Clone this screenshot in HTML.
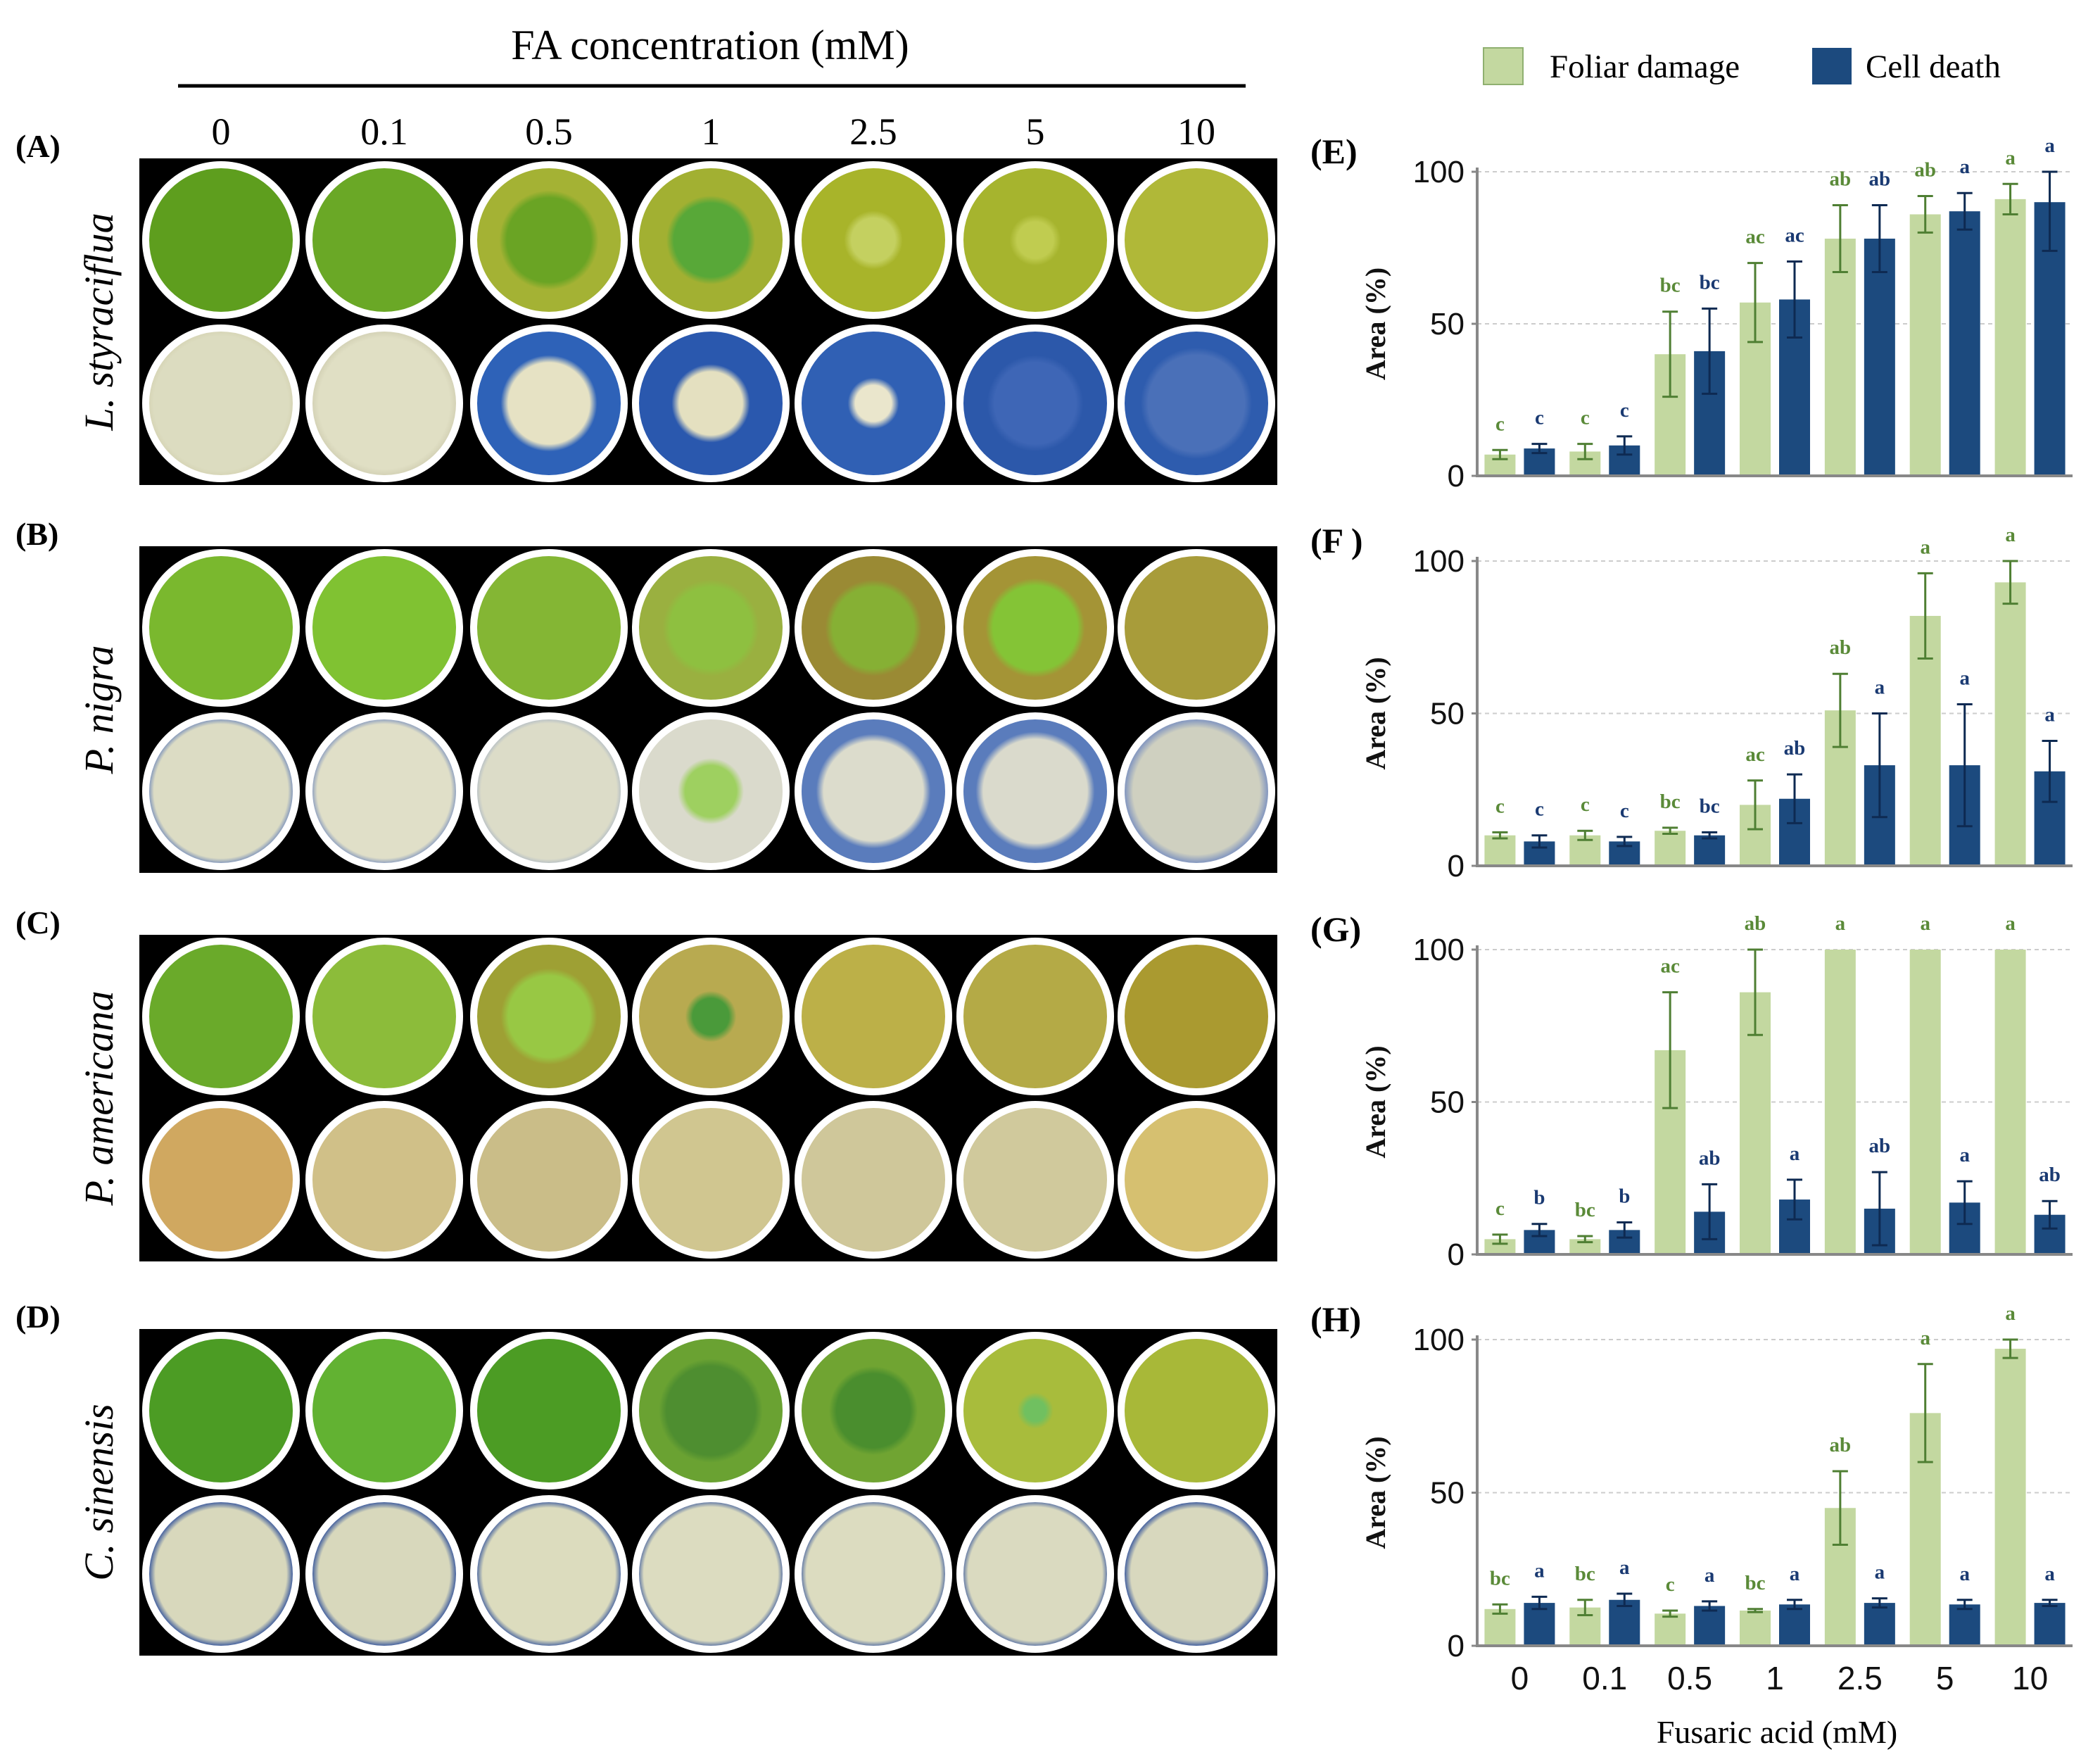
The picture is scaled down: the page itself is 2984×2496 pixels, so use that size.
<!DOCTYPE html>
<html><head><meta charset="utf-8"><style>
html,body{margin:0;padding:0;background:#fff;}
svg{display:block;}
</style></head><body>
<svg id="fig" xmlns="http://www.w3.org/2000/svg" width="2984" height="2496" viewBox="0 0 2984 2496"></svg>
<script>
const concLabels = ["0","0.1","0.5","1","2.5","5","10"];
const species = ["L. styraciflua","P. nigra","P. americana","C. sinensis"];
const panelLetters = ["(A)","(B)","(C)","(D)"];
const chartLetters = ["(E)","(F )","(G)","(H)"];
const greenE=[7,8,40,57,78,86,91], greenEerr=[1.5,2.5,14,13,11,6,5];
const blueE=[9,10,41,58,78,87,90], blueEerr=[1.5,3,14,12.5,11,6,16];
const greenF=[10,10,11.5,20,51,82,93], greenFerr=[1,1.5,1,8,12,14,7];
const blueF=[8,8,10,22,33,33,31], blueFerr=[2,1.5,1,8,17,20,10];
const greenG=[5,5,67,86,100,100,100], greenGerr=[1.5,1,19,14,0,0,0];
const blueG=[8,8,14,18,15,17,13], blueGerr=[2,2.5,9,6.5,12,7,4.5];
const greenH=[12,12.5,10.5,11.5,45,76,97], greenHerr=[1.5,2.5,1,0.5,12,16,3];
const blueH=[14,15,13,13.5,14,13.5,14], blueHerr=[2,2,1.5,1.5,1.5,1.5,1];
const greenLetE=["c","c","bc","ac","ab","ab","a"], blueLetE=["c","c","bc","ac","ab","a","a"];
const greenLetF=["c","c","bc","ac","ab","a","a"], blueLetF=["c","c","bc","ab","a","a","a"];
const greenLetG=["c","bc","ac","ab","a","a","a"], blueLetG=["b","b","ab","a","ab","a","ab"];
const greenLetH=["bc","bc","c","bc","ab","a","a"], blueLetH=["a","a","a","a","a","a","a"];
const yTicks=[0,50,100];

const svg=document.getElementById('fig');
const NS="http://www.w3.org/2000/svg";
function mk(tag,attrs,parent){const e=document.createElementNS(NS,tag);for(const k in attrs)e.setAttribute(k,attrs[k]);(parent||svg).appendChild(e);return e;}
const defs=mk('defs',{});

let t=mk('text',{x:1009,y:84,'font-family':'Liberation Serif, serif','font-size':60,'text-anchor':'middle',fill:'#000'});
t.textContent="FA concentration (mM)";


let ln=mk('line',{x1:253,x2:1770,y1:122,y2:122,stroke:'#000','stroke-width':5});


const colX=[314,546,780,1010,1241,1471,1700];
concLabels.forEach((c,i)=>{
  const e=mk('text',{x:colX[i],y:205,'font-family':'Liberation Serif, serif','font-size':54,'text-anchor':'middle'});
  e.textContent=c;
  
  
});

const discs=[
 [[["#5e9e1e","#5a981c",1],["#6aa826","#64a022",1],["#6aa424","#a4b234",.62],["#58a838","#a2b032",.55],["#c4d060","#a8b42a",.35],["#c0cc50","#a6b42e",.3],["#b0b838","#a4ac30",1]],
  [["#dcdcc0","#d4d2b2",.95],["#e0dfc4","#d2d0b4",.93],["#e6e2c4","#2e62b8",.6],["#e4e0c0","#2a58ae",.48],["#eae6cc","#3060b4",.3],["#3e66b6","#2c58aa",.6],["#4a70b8","#2e5cae",.7]]],
 [[["#7ab82e","#74b22c",1],["#80c232","#78b82e",1],["#84b634","#80ae30",1],["#8ec040","#9ab040",.6],["#86b034","#9a8a34",.6],["#84c436","#a49436",.62],["#a89c3a","#a09236",1]],
  [["#dcdcc4","#5a78b8",.95],["#e0dfc8","#6a84bc",.95],["#dcdcc8","#a0aec4",.96],["#9ed060","#dadacc",.4],["#dcdccc","#5a7cbc",.72],["#dadacc","#5a7cbc",.75],["#cfd0c0","#8a9cc0",.9]]],
 [[["#6aaa2a","#64a026",1],["#8cbc3a","#92b63c",1],["#98c844","#9ea034",.6],["#4a9a3a","#b8aa50",.3],["#bcb048","#b4a844",1],["#b4aa46","#aca040",1],["#aa9a30","#a49430",1]],
  [["#d0a860","#c8b070",1],["#d0c088","#c8b478",1],["#cabd88","#c2b27a",1],["#d0c690","#c8bc84",1],["#cfc79a","#c8bc8c",1],["#d0c99c","#c8bf90",1],["#d6c070","#ccbc80",1]]],
 [[["#4c9c24","#48961e",1],["#62b232","#5aa82c",1],["#4c9c24","#48961e",1],["#4e8e30","#6aa232",.65],["#4a8e2e","#70a432",.55],["#70c060","#a8bc3c",.2],["#a8b838","#a4b034",1]],
  [["#d8d8bc","#2a4c9a",.93],["#d8d8bc","#2a4c9a",.93],["#dcdcbe","#2a4c9a",.94],["#dcdcc0","#2a4c9a",.95],["#dcdcc0","#2a4c9a",.95],["#dadac0","#2a4c9a",.95],["#d8d8be","#2a4c9a",.93]]]
];
const panelTop=[225,776,1328,1888];
let gid=0;
panelTop.forEach((top,p)=>{
  const r=mk('rect',{x:198,y:top,width:1617,height:464,fill:'#000'});
  
  
  const lb=mk('text',{x:22,y:top-2,'font-family':'Liberation Serif, serif','font-size':46,'font-weight':'bold'});
  lb.textContent=panelLetters[p];
  
  
  const cy=top+232;
  const sp=mk('text',{x:0,y:0,transform:`translate(160,${cy}) rotate(-90)`,'font-family':'Liberation Serif, serif','font-size':58,'font-style':'italic','text-anchor':'middle'});
  sp.textContent=species[p];
  
  
  for(let row=0;row<2;row++){
    for(let i=0;i<7;i++){
      const d=discs[p][row][i];
      const id='g'+(gid++);
      const g=mk('radialGradient',{id:id,cx:'50%',cy:'50%',r:'50%'},defs);
      mk('stop',{offset:0,'stop-color':d[0]},g);
      mk('stop',{offset:Math.max(0,d[2]-0.06),'stop-color':d[0]},g);
      mk('stop',{offset:Math.min(1,d[2]+0.04),'stop-color':d[1]},g);
      mk('stop',{offset:1,'stop-color':d[1]},g);
      const c=mk('circle',{cx:colX[i],cy:top+116+row*232,r:107,fill:`url(#${id})`,stroke:'#fff','stroke-width':10});
      
      
    }
  }
});

let lg=mk('rect',{x:2108,y:68,width:56,height:52,fill:'#c3d8a0',stroke:'#8fb070','stroke-width':2});


lg=mk('text',{x:2202,y:110,'font-family':'Liberation Serif, serif','font-size':47});
lg.textContent="Foliar damage";


lg=mk('rect',{x:2575,y:68,width:56,height:52,fill:'#1c4a7e'});


lg=mk('text',{x:2651,y:110,'font-family':'Liberation Serif, serif','font-size':47});
lg.textContent="Cell death";



const charts=[
 [greenE,greenEerr,blueE,blueEerr,greenLetE,blueLetE,244,676],
 [greenF,greenFerr,blueF,blueFerr,greenLetF,blueLetF,797,1230],
 [greenG,greenGerr,blueG,blueGerr,greenLetG,blueLetG,1349,1782],
 [greenH,greenHerr,blueH,blueHerr,greenLetH,blueLetH,1903,2338]
];
const X0=2099,X1=2945;
charts.forEach((ch,k)=>{
  const [gv,ge,bv,be,gl,bl,yTop,yBot]=ch;
  const y=v=>yBot-(v/100)*(yBot-yTop);
  const gw=(X1-X0)/7;
  const lab=mk('text',{x:1862,y:yTop-12,'font-family':'Liberation Serif, serif','font-size':50,'font-weight':'bold'});
  lab.textContent=chartLetters[k];
  
  
  const yt=mk('text',{x:0,y:0,transform:`translate(1968,${(yTop+yBot)/2}) rotate(-90)`,'font-family':'Liberation Serif, serif','font-size':40,'font-weight':'bold','text-anchor':'middle',fill:'#111'});
  yt.textContent="Area (%)";
  
  
  yTicks.forEach(v=>{
    if(v>0){const gl2=mk('line',{x1:X0,x2:X1,y1:y(v),y2:y(v),stroke:'#ccc','stroke-width':2,'stroke-dasharray':'6,5'});
    
    }
    const tk=mk('line',{x1:X0-8,x2:X0,y1:y(v),y2:y(v),stroke:'#888','stroke-width':3});
    
    
    const tl=mk('text',{x:X0-18,y:y(v)+15,'font-family':'Liberation Sans Narrow, Liberation Sans, sans-serif','font-size':44,'text-anchor':'end',fill:'#111'});
    tl.textContent=v;
    
    
  });
  for(let i=0;i<7;i++){
    const cx=X0+gw*(i+0.5);
    [[gv,ge,gl,'#c3d8a0','#4f7f33','#5a8a38',-28],[bv,be,bl,'#1c4a7e','#0e2a52','#1a3a72',28]].forEach((s,j)=>{
      const [vals,errs,lets,fc,ec,tc,off]=s;
      const bx=cx+off;
      const b=mk('rect',{x:bx-22,y:y(vals[i]),width:44,height:yBot-y(vals[i]),fill:fc});
      
      
      if(errs[i]>0){
        const top=Math.min(100,vals[i]+errs[i]), bot=vals[i]-errs[i];
        const e=mk('path',{d:`M${bx},${y(top)}V${y(bot)}M${bx-11},${y(top)}H${bx+11}M${bx-11},${y(bot)}H${bx+11}`,stroke:ec,'stroke-width':3,fill:'none'});
        
        
      }
      const lt=mk('text',{x:bx,y:y(Math.min(100,vals[i]+errs[i]))-28,'font-family':'Liberation Serif, serif','font-size':29,'font-weight':'bold','text-anchor':'middle',fill:tc});
      lt.textContent=lets[i];
      
      
    });
  }
  const ax=mk('path',{d:`M${X0},${yTop-6}V${yBot}H${X1}`,stroke:'#888','stroke-width':4,fill:'none'});
  
  
  if(k===3){
    concLabels.forEach((c,i)=>{
      const xl=mk('text',{x:X0+gw*(i+0.5),y:2400,'font-family':'Liberation Sans Narrow, Liberation Sans, sans-serif','font-size':46,'text-anchor':'middle',fill:'#111'});
      xl.textContent=c;
      
      
    });
    const xt=mk('text',{x:2525,y:2476,'font-family':'Liberation Serif, serif','font-size':46,'text-anchor':'middle'});
    xt.textContent="Fusaric acid (mM)";
    
    
  }
});
</script>
</body></html>
